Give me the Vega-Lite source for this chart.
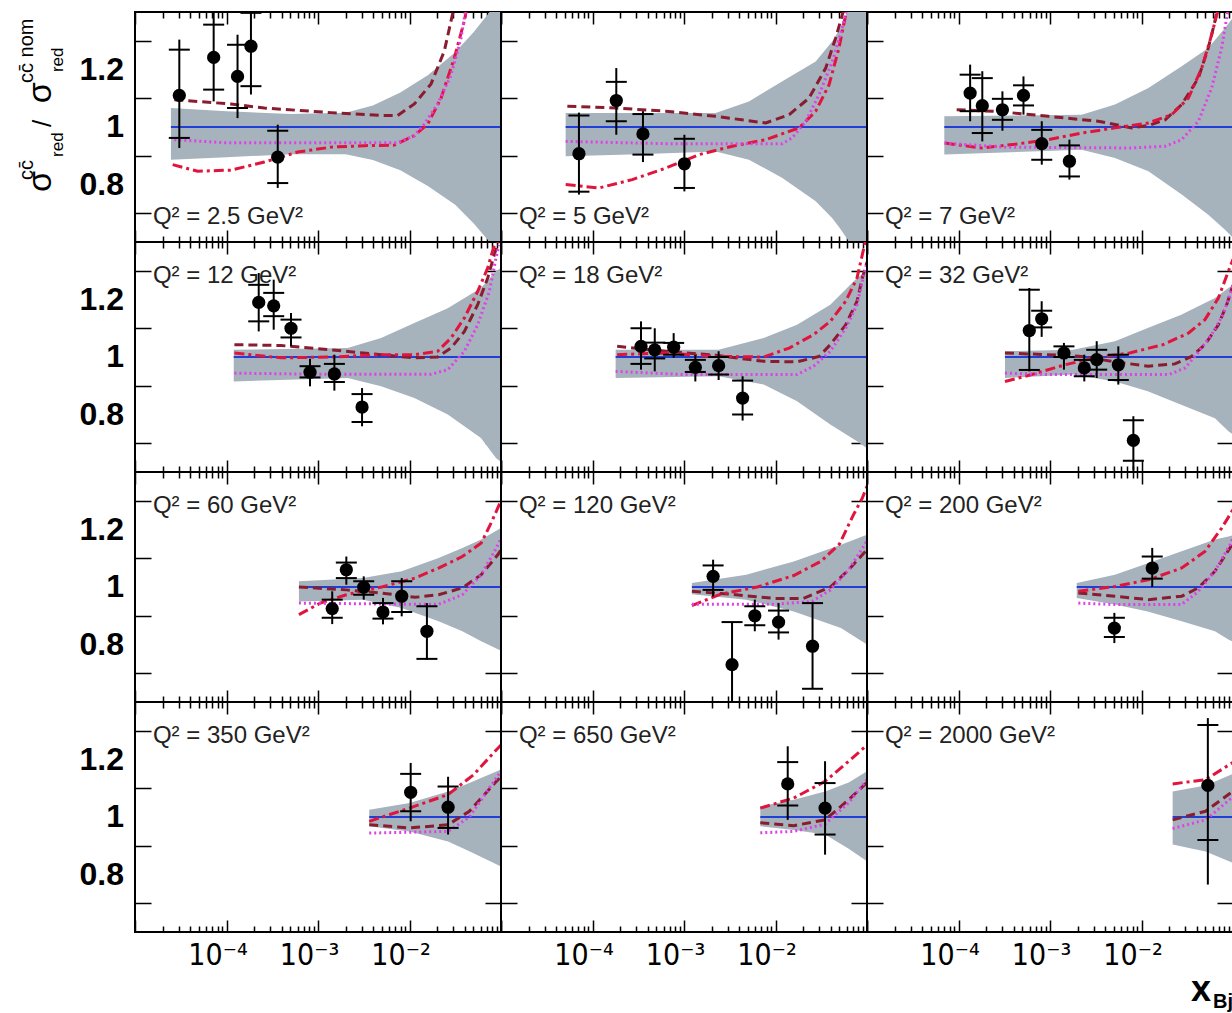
{
"$schema":"https://vega.github.io/schema/vega-lite/v6.json",
"background":"white",
"padding":{"left":15,"top":11,"right":0,"bottom":0},
"data":{"values":[
{"p":2.5,"k":"band","x":2.47e-5,"lo":0.886,"hi":1.066},{"p":2.5,"k":"band","x":1e-4,"lo":0.895,"hi":1.055},{"p":2.5,"k":"band","x":5.01e-4,"lo":0.905,"hi":1.045},{"p":2.5,"k":"band","x":2.0e-3,"lo":0.905,"hi":1.05},{"p":2.5,"k":"band","x":3.98e-3,"lo":0.885,"hi":1.075},{"p":2.5,"k":"band","x":7.94e-3,"lo":0.85,"hi":1.12},{"p":2.5,"k":"band","x":1.585e-2,"lo":0.795,"hi":1.18},{"p":2.5,"k":"band","x":3.16e-2,"lo":0.73,"hi":1.26},{"p":2.5,"k":"band","x":5.01e-2,"lo":0.665,"hi":1.33},{"p":2.5,"k":"band","x":7.08e-2,"lo":0.61,"hi":1.39},{"p":2.5,"k":"band","x":0.1,"lo":0.55,"hi":1.45},
{"p":2.5,"k":"dash","x":2.69e-5,"y":1.095},{"p":2.5,"k":"dash","x":1.12e-4,"y":1.08},{"p":2.5,"k":"dash","x":2.59e-4,"y":1.066},{"p":2.5,"k":"dash","x":1.39e-3,"y":1.05},{"p":2.5,"k":"dash","x":4.89e-3,"y":1.04},{"p":2.5,"k":"dash","x":7.41e-3,"y":1.04},{"p":2.5,"k":"dash","x":1.13e-2,"y":1.08},{"p":2.5,"k":"dash","x":1.72e-2,"y":1.15},{"p":2.5,"k":"dash","x":2.40e-2,"y":1.264},{"p":2.5,"k":"dash","x":2.84e-2,"y":1.368},{"p":2.5,"k":"dash","x":3.24e-2,"y":1.45},
{"p":2.5,"k":"dashdot","x":2.58e-5,"y":0.869},{"p":2.5,"k":"dashdot","x":4.84e-5,"y":0.846},{"p":2.5,"k":"dashdot","x":1.12e-4,"y":0.85},{"p":2.5,"k":"dashdot","x":2.59e-4,"y":0.878},{"p":2.5,"k":"dashdot","x":6.0e-4,"y":0.913},{"p":2.5,"k":"dashdot","x":1.39e-3,"y":0.93},{"p":2.5,"k":"dashdot","x":3.21e-3,"y":0.935},{"p":2.5,"k":"dashdot","x":6.82e-3,"y":0.937},{"p":2.5,"k":"dashdot","x":1.13e-2,"y":0.97},{"p":2.5,"k":"dashdot","x":1.58e-2,"y":1.01},{"p":2.5,"k":"dashdot","x":2.21e-2,"y":1.10},{"p":2.5,"k":"dashdot","x":3.09e-2,"y":1.24},{"p":2.5,"k":"dashdot","x":3.98e-2,"y":1.37},{"p":2.5,"k":"dashdot","x":4.33e-2,"y":1.43},
{"p":2.5,"k":"dot","x":2.69e-5,"y":0.956},{"p":2.5,"k":"dot","x":1e-4,"y":0.945},{"p":2.5,"k":"dot","x":1e-3,"y":0.945},{"p":2.5,"k":"dot","x":7.41e-3,"y":0.945},{"p":2.5,"k":"dot","x":1.13e-2,"y":0.97},{"p":2.5,"k":"dot","x":1.45e-2,"y":1.01},{"p":2.5,"k":"dot","x":2.03e-2,"y":1.08},{"p":2.5,"k":"dot","x":2.84e-2,"y":1.18},{"p":2.5,"k":"dot","x":3.66e-2,"y":1.31},{"p":2.5,"k":"dot","x":4.17e-2,"y":1.42},
{"p":2.5,"k":"pt","x":3.05e-5,"y":1.11,"sl":0.962,"sh":1.269,"tl":0.927,"th":1.304},{"p":2.5,"k":"pt","x":7.24e-5,"y":1.242,"sl":1.13,"sh":1.356,"tl":1.089,"th":1.45},{"p":2.5,"k":"pt","x":1.32e-4,"y":1.176,"sl":1.066,"sh":1.286,"tl":1.031,"th":1.321},{"p":2.5,"k":"pt","x":1.85e-4,"y":1.281,"sl":1.142,"sh":1.397,"tl":1.113,"th":1.45},{"p":2.5,"k":"pt","x":3.63e-4,"y":0.895,"sl":0.805,"sh":0.987,"tl":0.788,"th":1.008},
{"p":2.5,"k":"lab","t":"Q² = 2.5 GeV²"},

{"p":5,"k":"band","x":5.09e-5,"lo":0.898,"hi":1.049},{"p":5,"k":"band","x":3.16e-4,"lo":0.905,"hi":1.049},{"p":5,"k":"band","x":2.22e-3,"lo":0.915,"hi":1.049},{"p":5,"k":"band","x":5.13e-3,"lo":0.886,"hi":1.089},{"p":5,"k":"band","x":1.19e-2,"lo":0.823,"hi":1.159},{"p":5,"k":"band","x":2.75e-2,"lo":0.742,"hi":1.228},{"p":5,"k":"band","x":4.18e-2,"lo":0.683,"hi":1.298},{"p":5,"k":"band","x":5.01e-2,"lo":0.65,"hi":1.34},{"p":5,"k":"band","x":7.08e-2,"lo":0.58,"hi":1.45},{"p":5,"k":"band","x":0.1,"lo":0.5,"hi":1.6},
{"p":5,"k":"dash","x":5.31e-5,"y":1.072},{"p":5,"k":"dash","x":1.79e-4,"y":1.066},{"p":5,"k":"dash","x":6.31e-4,"y":1.055},{"p":5,"k":"dash","x":2.22e-3,"y":1.037},{"p":5,"k":"dash","x":7.82e-3,"y":1.014},{"p":5,"k":"dash","x":1.41e-2,"y":1.043},{"p":5,"k":"dash","x":2.32e-2,"y":1.10},{"p":5,"k":"dash","x":3.54e-2,"y":1.205},{"p":5,"k":"dash","x":4.55e-2,"y":1.31},{"p":5,"k":"dash","x":5.37e-2,"y":1.39},{"p":5,"k":"dash","x":6.03e-2,"y":1.45},
{"p":5,"k":"dashdot","x":5.09e-5,"y":0.80},{"p":5,"k":"dashdot","x":1.18e-4,"y":0.788},{"p":5,"k":"dashdot","x":2.72e-4,"y":0.817},{"p":5,"k":"dashdot","x":6.31e-4,"y":0.857},{"p":5,"k":"dashdot","x":1.46e-3,"y":0.904},{"p":5,"k":"dashdot","x":3.37e-3,"y":0.933},{"p":5,"k":"dashdot","x":7.82e-3,"y":0.956},{"p":5,"k":"dashdot","x":1.81e-2,"y":0.997},{"p":5,"k":"dashdot","x":2.75e-2,"y":1.055},{"p":5,"k":"dashdot","x":3.85e-2,"y":1.147},{"p":5,"k":"dashdot","x":4.94e-2,"y":1.275},{"p":5,"k":"dashdot","x":5.85e-2,"y":1.39},{"p":5,"k":"dashdot","x":6.31e-2,"y":1.45},
{"p":5,"k":"dot","x":5.09e-5,"y":0.95},{"p":5,"k":"dot","x":6.31e-4,"y":0.942},{"p":5,"k":"dot","x":1.19e-2,"y":0.942},{"p":5,"k":"dot","x":1.53e-2,"y":0.963},{"p":5,"k":"dot","x":2.14e-2,"y":1.02},{"p":5,"k":"dot","x":2.99e-2,"y":1.112},{"p":5,"k":"dot","x":4.18e-2,"y":1.228},{"p":5,"k":"dot","x":5.37e-2,"y":1.344},{"p":5,"k":"dot","x":6.1e-2,"y":1.42},
{"p":5,"k":"pt","x":7.11e-5,"y":0.907,"sl":0.775,"sh":1.04,"tl":0.765,"th":1.05},{"p":5,"k":"pt","x":1.82e-4,"y":1.092,"sl":1.02,"sh":1.157,"tl":0.973,"th":1.205},{"p":5,"k":"pt","x":3.56e-4,"y":0.976,"sl":0.904,"sh":1.045,"tl":0.878,"th":1.055},{"p":5,"k":"pt","x":1.01e-3,"y":0.872,"sl":0.788,"sh":0.959,"tl":0.776,"th":0.973},
{"p":5,"k":"lab","t":"Q² = 5 GeV²"},

{"p":7,"k":"band","x":7.0e-5,"lo":0.904,"hi":1.037},{"p":7,"k":"band","x":2.22e-3,"lo":0.921,"hi":1.043},{"p":7,"k":"band","x":5.13e-3,"lo":0.892,"hi":1.078},{"p":7,"k":"band","x":1.19e-2,"lo":0.846,"hi":1.136},{"p":7,"k":"band","x":2.75e-2,"lo":0.765,"hi":1.211},{"p":7,"k":"band","x":5.37e-2,"lo":0.695,"hi":1.275},{"p":7,"k":"band","x":8.18e-2,"lo":0.643,"hi":1.344},{"p":7,"k":"band","x":0.1,"lo":0.615,"hi":1.38},
{"p":7,"k":"dash","x":9.55e-5,"y":1.06},{"p":7,"k":"dash","x":2.72e-4,"y":1.054},{"p":7,"k":"dash","x":9.59e-4,"y":1.037},{"p":7,"k":"dash","x":3.37e-3,"y":1.02},{"p":7,"k":"dash","x":7.82e-3,"y":0.997},{"p":7,"k":"dash","x":1.19e-2,"y":1.005},{"p":7,"k":"dash","x":1.81e-2,"y":1.025},{"p":7,"k":"dash","x":2.75e-2,"y":1.078},{"p":7,"k":"dash","x":4.18e-2,"y":1.17},{"p":7,"k":"dash","x":5.37e-2,"y":1.275},{"p":7,"k":"dash","x":6.35e-2,"y":1.368},{"p":7,"k":"dash","x":6.92e-2,"y":1.43},
{"p":7,"k":"dashdot","x":7.11e-5,"y":0.944},{"p":7,"k":"dashdot","x":1.79e-4,"y":0.927},{"p":7,"k":"dashdot","x":4.14e-4,"y":0.94},{"p":7,"k":"dashdot","x":9.59e-4,"y":0.956},{"p":7,"k":"dashdot","x":2.22e-3,"y":0.979},{"p":7,"k":"dashdot","x":5.13e-3,"y":0.997},{"p":7,"k":"dashdot","x":1.19e-2,"y":1.014},{"p":7,"k":"dashdot","x":2.14e-2,"y":1.043},{"p":7,"k":"dashdot","x":3.25e-2,"y":1.10},{"p":7,"k":"dashdot","x":4.55e-2,"y":1.205},{"p":7,"k":"dashdot","x":5.85e-2,"y":1.321},{"p":7,"k":"dashdot","x":6.64e-2,"y":1.39},{"p":7,"k":"dashdot","x":7.08e-2,"y":1.43},
{"p":7,"k":"dot","x":7.0e-5,"y":0.944},{"p":7,"k":"dot","x":3.16e-4,"y":0.93},{"p":7,"k":"dot","x":7.82e-3,"y":0.927},{"p":7,"k":"dot","x":1.81e-2,"y":0.933},{"p":7,"k":"dot","x":2.75e-2,"y":0.956},{"p":7,"k":"dot","x":4.18e-2,"y":1.02},{"p":7,"k":"dot","x":5.85e-2,"y":1.136},{"p":7,"k":"dot","x":7.52e-2,"y":1.275},{"p":7,"k":"dot","x":8.53e-2,"y":1.38},{"p":7,"k":"dot","x":9.12e-2,"y":1.43},
{"p":7,"k":"pt","x":1.34e-4,"y":1.118,"sl":1.055,"sh":1.182,"tl":1.02,"th":1.217},{"p":7,"k":"pt","x":1.82e-4,"y":1.074,"sl":0.979,"sh":1.17,"tl":0.95,"th":1.194},{"p":7,"k":"pt","x":3.02e-4,"y":1.06,"sl":1.025,"sh":1.098,"tl":0.987,"th":1.124},{"p":7,"k":"pt","x":5.13e-4,"y":1.11,"sl":1.075,"sh":1.145,"tl":1.043,"th":1.176},{"p":7,"k":"pt","x":8.13e-4,"y":0.942,"sl":0.886,"sh":0.99,"tl":0.869,"th":1.02},{"p":7,"k":"pt","x":1.63e-3,"y":0.881,"sl":0.828,"sh":0.936,"tl":0.817,"th":0.956},
{"p":7,"k":"lab","t":"Q² = 7 GeV²"},

{"p":12,"k":"band","x":1.2e-4,"lo":0.915,"hi":1.025},{"p":12,"k":"band","x":2.11e-3,"lo":0.927,"hi":1.031},{"p":12,"k":"band","x":4.89e-3,"lo":0.898,"hi":1.066},{"p":12,"k":"band","x":1.13e-2,"lo":0.857,"hi":1.118},{"p":12,"k":"band","x":2.62e-2,"lo":0.80,"hi":1.17},{"p":12,"k":"band","x":6.04e-2,"lo":0.718,"hi":1.24},{"p":12,"k":"band","x":8.81e-2,"lo":0.649,"hi":1.298},{"p":12,"k":"band","x":0.1,"lo":0.635,"hi":1.31},
{"p":12,"k":"dash","x":1.22e-4,"y":1.043},{"p":12,"k":"dash","x":3.94e-4,"y":1.04},{"p":12,"k":"dash","x":1.39e-3,"y":1.025},{"p":12,"k":"dash","x":4.89e-3,"y":1.008},{"p":12,"k":"dash","x":1.13e-2,"y":0.997},{"p":12,"k":"dash","x":2.03e-2,"y":1.0},{"p":12,"k":"dash","x":2.84e-2,"y":1.031},{"p":12,"k":"dash","x":3.98e-2,"y":1.089},{"p":12,"k":"dash","x":5.56e-2,"y":1.182},{"p":12,"k":"dash","x":7.16e-2,"y":1.275},{"p":12,"k":"dash","x":8.45e-2,"y":1.356},{"p":12,"k":"dash","x":9.33e-2,"y":1.40},
{"p":12,"k":"dashdot","x":1.22e-4,"y":1.014},{"p":12,"k":"dashdot","x":3.94e-4,"y":0.997},{"p":12,"k":"dashdot","x":1.39e-3,"y":1.0},{"p":12,"k":"dashdot","x":4.89e-3,"y":1.008},{"p":12,"k":"dashdot","x":1.13e-2,"y":1.008},{"p":12,"k":"dashdot","x":2.03e-2,"y":1.02},{"p":12,"k":"dashdot","x":2.84e-2,"y":1.066},{"p":12,"k":"dashdot","x":3.98e-2,"y":1.136},{"p":12,"k":"dashdot","x":5.56e-2,"y":1.228},{"p":12,"k":"dashdot","x":7.16e-2,"y":1.31},{"p":12,"k":"dashdot","x":8.11e-2,"y":1.37},{"p":12,"k":"dashdot","x":8.91e-2,"y":1.41},
{"p":12,"k":"dot","x":1.22e-4,"y":0.944},{"p":12,"k":"dot","x":1e-3,"y":0.94},{"p":12,"k":"dot","x":1.72e-2,"y":0.94},{"p":12,"k":"dot","x":2.62e-2,"y":0.956},{"p":12,"k":"dot","x":3.98e-2,"y":1.02},{"p":12,"k":"dot","x":5.56e-2,"y":1.112},{"p":12,"k":"dot","x":7.46e-2,"y":1.228},{"p":12,"k":"dot","x":8.81e-2,"y":1.344},{"p":12,"k":"dot","x":9.55e-2,"y":1.39},
{"p":12,"k":"pt","x":2.25e-4,"y":1.19,"sl":1.124,"sh":1.251,"tl":1.089,"th":1.292},{"p":12,"k":"pt","x":3.28e-4,"y":1.178,"sl":1.142,"sh":1.223,"tl":1.095,"th":1.269},{"p":12,"k":"pt","x":5.07e-4,"y":1.10,"sl":1.068,"sh":1.13,"tl":1.037,"th":1.153},{"p":12,"k":"pt","x":8.18e-4,"y":0.947,"sl":0.929,"sh":0.968,"tl":0.898,"th":0.994},{"p":12,"k":"pt","x":1.51e-3,"y":0.941,"sl":0.913,"sh":0.976,"tl":0.883,"th":1.008},{"p":12,"k":"pt","x":3.03e-3,"y":0.826,"sl":0.774,"sh":0.871,"tl":0.759,"th":0.892},
{"p":12,"k":"lab","t":"Q² = 12 GeV²"},

{"p":18,"k":"band","x":1.79e-4,"lo":0.927,"hi":1.025},{"p":18,"k":"band","x":2.39e-3,"lo":0.933,"hi":1.025},{"p":18,"k":"band","x":7.43e-3,"lo":0.904,"hi":1.066},{"p":18,"k":"band","x":1.72e-2,"lo":0.846,"hi":1.112},{"p":18,"k":"band","x":3.97e-2,"lo":0.765,"hi":1.182},{"p":18,"k":"band","x":7.78e-2,"lo":0.707,"hi":1.275},{"p":18,"k":"band","x":0.1,"lo":0.683,"hi":1.30},
{"p":18,"k":"dash","x":1.86e-4,"y":1.037},{"p":18,"k":"dash","x":6.31e-4,"y":1.02},{"p":18,"k":"dash","x":2.22e-3,"y":1.006},{"p":18,"k":"dash","x":7.43e-3,"y":0.985},{"p":18,"k":"dash","x":1.72e-2,"y":0.983},{"p":18,"k":"dash","x":2.99e-2,"y":1.002},{"p":18,"k":"dash","x":3.97e-2,"y":1.043},{"p":18,"k":"dash","x":5.85e-2,"y":1.112},{"p":18,"k":"dash","x":7.78e-2,"y":1.194},{"p":18,"k":"dash","x":8.89e-2,"y":1.275},{"p":18,"k":"dash","x":0.1,"y":1.33},
{"p":18,"k":"dashdot","x":1.86e-4,"y":1.008},{"p":18,"k":"dashdot","x":6.31e-4,"y":1.014},{"p":18,"k":"dashdot","x":2.22e-3,"y":1.002},{"p":18,"k":"dashdot","x":7.43e-3,"y":1.0},{"p":18,"k":"dashdot","x":1.41e-2,"y":1.031},{"p":18,"k":"dashdot","x":2.61e-2,"y":1.078},{"p":18,"k":"dashdot","x":3.97e-2,"y":1.124},{"p":18,"k":"dashdot","x":5.85e-2,"y":1.194},{"p":18,"k":"dashdot","x":7.78e-2,"y":1.275},{"p":18,"k":"dashdot","x":8.89e-2,"y":1.356},{"p":18,"k":"dashdot","x":9.55e-2,"y":1.40},
{"p":18,"k":"dot","x":1.79e-4,"y":0.95},{"p":18,"k":"dot","x":1e-3,"y":0.939},{"p":18,"k":"dot","x":1.72e-2,"y":0.939},{"p":18,"k":"dot","x":2.61e-2,"y":0.968},{"p":18,"k":"dot","x":3.97e-2,"y":1.02},{"p":18,"k":"dot","x":5.85e-2,"y":1.10},{"p":18,"k":"dot","x":7.78e-2,"y":1.182},{"p":18,"k":"dot","x":8.89e-2,"y":1.263},{"p":18,"k":"dot","x":0.1,"y":1.33},
{"p":18,"k":"pt","x":3.39e-4,"y":1.037,"sl":0.976,"sh":1.10,"tl":0.956,"th":1.124},{"p":18,"k":"pt","x":4.79e-4,"y":1.025,"sl":0.995,"sh":1.05,"tl":0.95,"th":1.10},{"p":18,"k":"pt","x":7.71e-4,"y":1.034,"sl":1.008,"sh":1.049,"tl":0.997,"th":1.083},{"p":18,"k":"pt","x":1.33e-3,"y":0.964,"sl":0.948,"sh":0.99,"tl":0.915,"th":1.008},{"p":18,"k":"pt","x":2.39e-3,"y":0.97,"sl":0.939,"sh":1.0,"tl":0.92,"th":1.02},{"p":18,"k":"pt","x":4.37e-3,"y":0.857,"sl":0.80,"sh":0.918,"tl":0.779,"th":0.933},
{"p":18,"k":"lab","t":"Q² = 18 GeV²"},

{"p":32,"k":"band","x":3.22e-4,"lo":0.927,"hi":1.02},{"p":32,"k":"band","x":1.78e-3,"lo":0.939,"hi":1.025},{"p":32,"k":"band","x":5.13e-3,"lo":0.915,"hi":1.055},{"p":32,"k":"band","x":1.17e-2,"lo":0.881,"hi":1.101},{"p":32,"k":"band","x":2.72e-2,"lo":0.834,"hi":1.147},{"p":32,"k":"band","x":6.35e-2,"lo":0.787,"hi":1.205},{"p":32,"k":"band","x":8.91e-2,"lo":0.742,"hi":1.24},{"p":32,"k":"band","x":0.1,"lo":0.73,"hi":1.25},
{"p":32,"k":"dash","x":3.22e-4,"y":1.014},{"p":32,"k":"dash","x":9.59e-4,"y":1.008},{"p":32,"k":"dash","x":2.22e-3,"y":1.002},{"p":32,"k":"dash","x":5.13e-3,"y":0.983},{"p":32,"k":"dash","x":1.19e-2,"y":0.968},{"p":32,"k":"dash","x":2.32e-2,"y":0.976},{"p":32,"k":"dash","x":3.53e-2,"y":1.002},{"p":32,"k":"dash","x":4.94e-2,"y":1.043},{"p":32,"k":"dash","x":6.92e-2,"y":1.112},{"p":32,"k":"dash","x":8.53e-2,"y":1.182},{"p":32,"k":"dash","x":0.1,"y":1.25},
{"p":32,"k":"dashdot","x":3.22e-4,"y":0.915},{"p":32,"k":"dashdot","x":6.31e-4,"y":0.939},{"p":32,"k":"dashdot","x":1.46e-3,"y":0.973},{"p":32,"k":"dashdot","x":3.37e-3,"y":1.0},{"p":32,"k":"dashdot","x":7.43e-3,"y":1.014},{"p":32,"k":"dashdot","x":1.72e-2,"y":1.043},{"p":32,"k":"dashdot","x":3.25e-2,"y":1.083},{"p":32,"k":"dashdot","x":4.94e-2,"y":1.13},{"p":32,"k":"dashdot","x":6.92e-2,"y":1.205},{"p":32,"k":"dashdot","x":8.89e-2,"y":1.298},{"p":32,"k":"dashdot","x":0.1,"y":1.34},
{"p":32,"k":"dot","x":3.22e-4,"y":0.944},{"p":32,"k":"dot","x":1e-3,"y":0.939},{"p":32,"k":"dot","x":2.0e-2,"y":0.939},{"p":32,"k":"dot","x":2.99e-2,"y":0.962},{"p":32,"k":"dot","x":3.97e-2,"y":1.008},{"p":32,"k":"dot","x":5.85e-2,"y":1.078},{"p":32,"k":"dot","x":7.78e-2,"y":1.147},{"p":32,"k":"dot","x":9.27e-2,"y":1.217},{"p":32,"k":"dot","x":0.1,"y":1.25},
{"p":32,"k":"pt","x":5.94e-4,"y":1.092,"sl":0.955,"sh":1.234,"tl":0.95,"th":1.24},{"p":32,"k":"pt","x":8.11e-4,"y":1.133,"sl":1.103,"sh":1.161,"tl":1.07,"th":1.194},{"p":32,"k":"pt","x":1.42e-3,"y":1.014,"sl":1.0,"sh":1.037,"tl":0.956,"th":1.049},{"p":32,"k":"pt","x":2.37e-3,"y":0.962,"sl":0.933,"sh":0.99,"tl":0.915,"th":1.008},{"p":32,"k":"pt","x":3.24e-3,"y":0.991,"sl":0.956,"sh":1.025,"tl":0.927,"th":1.055},{"p":32,"k":"pt","x":5.58e-3,"y":0.973,"sl":0.92,"sh":1.008,"tl":0.904,"th":1.037},{"p":32,"k":"pt","x":8.15e-3,"y":0.71,"sl":0.639,"sh":0.78,"tl":0.605,"th":0.794},
{"p":32,"k":"lab","t":"Q² = 32 GeV²"},

{"p":60,"k":"band","x":6.19e-4,"lo":0.95,"hi":1.02},{"p":60,"k":"band","x":3.1e-3,"lo":0.956,"hi":1.031},{"p":60,"k":"band","x":8.22e-3,"lo":0.927,"hi":1.055},{"p":60,"k":"band","x":2.08e-2,"lo":0.881,"hi":1.101},{"p":60,"k":"band","x":3.78e-2,"lo":0.846,"hi":1.136},{"p":60,"k":"band","x":6.08e-2,"lo":0.811,"hi":1.165},{"p":60,"k":"band","x":0.1,"lo":0.778,"hi":1.205},
{"p":60,"k":"dash","x":6.19e-4,"y":1.0},{"p":60,"k":"dash","x":2.04e-3,"y":0.99},{"p":60,"k":"dash","x":4.98e-3,"y":0.979},{"p":60,"k":"dash","x":1.15e-2,"y":0.964},{"p":60,"k":"dash","x":2.08e-2,"y":0.973},{"p":60,"k":"dash","x":3.78e-2,"y":0.997},{"p":60,"k":"dash","x":6.08e-2,"y":1.043},{"p":60,"k":"dash","x":9.23e-2,"y":1.112},{"p":60,"k":"dash","x":0.1,"y":1.13},
{"p":60,"k":"dashdot","x":6.19e-4,"y":0.904},{"p":60,"k":"dashdot","x":1.06e-3,"y":0.944},{"p":60,"k":"dashdot","x":2.04e-3,"y":0.973},{"p":60,"k":"dashdot","x":4.98e-3,"y":1.0},{"p":60,"k":"dashdot","x":1.15e-2,"y":1.031},{"p":60,"k":"dashdot","x":2.08e-2,"y":1.066},{"p":60,"k":"dashdot","x":3.78e-2,"y":1.106},{"p":60,"k":"dashdot","x":6.08e-2,"y":1.153},{"p":60,"k":"dashdot","x":7.94e-2,"y":1.228},{"p":60,"k":"dashdot","x":9.23e-2,"y":1.275},{"p":60,"k":"dashdot","x":0.1,"y":1.30},
{"p":60,"k":"dot","x":6.19e-4,"y":0.944},{"p":60,"k":"dot","x":1e-2,"y":0.94},{"p":60,"k":"dot","x":2.08e-2,"y":0.94},{"p":60,"k":"dot","x":3.78e-2,"y":0.973},{"p":60,"k":"dot","x":6.08e-2,"y":1.043},{"p":60,"k":"dot","x":8.91e-2,"y":1.136},{"p":60,"k":"dot","x":0.1,"y":1.17},
{"p":60,"k":"pt","x":1.43e-3,"y":0.925,"sl":0.893,"sh":0.956,"tl":0.871,"th":0.985},{"p":60,"k":"pt","x":2.04e-3,"y":1.06,"sl":1.031,"sh":1.085,"tl":1.008,"th":1.106},{"p":60,"k":"pt","x":3.16e-3,"y":0.999,"sl":0.973,"sh":1.02,"tl":0.956,"th":1.037},{"p":60,"k":"pt","x":5.13e-3,"y":0.913,"sl":0.89,"sh":0.944,"tl":0.87,"th":0.962},{"p":60,"k":"pt","x":8.22e-3,"y":0.968,"sl":0.913,"sh":1.02,"tl":0.898,"th":1.031},{"p":60,"k":"pt","x":1.55e-2,"y":0.846,"sl":0.75,"sh":0.933,"tl":0.747,"th":0.944},
{"p":60,"k":"lab","t":"Q² = 60 GeV²"},

{"p":120,"k":"band","x":1.22e-3,"lo":0.975,"hi":1.014},{"p":120,"k":"band","x":4.79e-3,"lo":0.956,"hi":1.043},{"p":120,"k":"band","x":1.585e-2,"lo":0.915,"hi":1.089},{"p":120,"k":"band","x":5.19e-2,"lo":0.857,"hi":1.147},{"p":120,"k":"band","x":0.1,"lo":0.80,"hi":1.182},
{"p":120,"k":"dash","x":1.22e-3,"y":0.985},{"p":120,"k":"dash","x":3.16e-3,"y":0.975},{"p":120,"k":"dash","x":1e-2,"y":0.96},{"p":120,"k":"dash","x":2.0e-2,"y":0.96},{"p":120,"k":"dash","x":3.98e-2,"y":1.0},{"p":120,"k":"dash","x":6.31e-2,"y":1.06},{"p":120,"k":"dash","x":0.1,"y":1.13},
{"p":120,"k":"dashdot","x":1.22e-3,"y":0.935},{"p":120,"k":"dashdot","x":2.51e-3,"y":0.975},{"p":120,"k":"dashdot","x":6.31e-3,"y":1.0},{"p":120,"k":"dashdot","x":1.585e-2,"y":1.04},{"p":120,"k":"dashdot","x":3.16e-2,"y":1.09},{"p":120,"k":"dashdot","x":5.01e-2,"y":1.15},{"p":120,"k":"dashdot","x":7.08e-2,"y":1.25},{"p":120,"k":"dashdot","x":8.91e-2,"y":1.31},{"p":120,"k":"dashdot","x":0.1,"y":1.35},
{"p":120,"k":"dot","x":1.22e-3,"y":0.94},{"p":120,"k":"dot","x":1e-2,"y":0.94},{"p":120,"k":"dot","x":2.51e-2,"y":0.95},{"p":120,"k":"dot","x":3.98e-2,"y":0.99},{"p":120,"k":"dot","x":6.31e-2,"y":1.06},{"p":120,"k":"dot","x":0.1,"y":1.16},
{"p":120,"k":"pt","x":2.08e-3,"y":1.037,"sl":0.99,"sh":1.075,"tl":0.967,"th":1.095},{"p":120,"k":"pt","x":3.35e-3,"y":0.73,"sl":0.56,"sh":0.878,"tl":0.55,"th":0.878},{"p":120,"k":"pt","x":5.94e-3,"y":0.90,"sl":0.867,"sh":0.933,"tl":0.846,"th":0.956},{"p":120,"k":"pt","x":1.08e-2,"y":0.878,"sl":0.842,"sh":0.918,"tl":0.817,"th":0.944},{"p":120,"k":"pt","x":2.54e-2,"y":0.794,"sl":0.646,"sh":0.944,"tl":0.646,"th":0.944},
{"p":120,"k":"lab","t":"Q² = 120 GeV²"},

{"p":200,"k":"band","x":1.96e-3,"lo":0.962,"hi":1.014},{"p":200,"k":"band","x":5.13e-3,"lo":0.939,"hi":1.043},{"p":200,"k":"band","x":1.17e-2,"lo":0.915,"hi":1.083},{"p":200,"k":"band","x":2.75e-2,"lo":0.881,"hi":1.124},{"p":200,"k":"band","x":6.35e-2,"lo":0.846,"hi":1.165},{"p":200,"k":"band","x":8.91e-2,"lo":0.817,"hi":1.176},{"p":200,"k":"band","x":0.1,"lo":0.81,"hi":1.18},
{"p":200,"k":"dash","x":2.04e-3,"y":0.979},{"p":200,"k":"dash","x":5.13e-3,"y":0.968},{"p":200,"k":"dash","x":1.19e-2,"y":0.956},{"p":200,"k":"dash","x":2.75e-2,"y":0.968},{"p":200,"k":"dash","x":4.18e-2,"y":0.997},{"p":200,"k":"dash","x":6.35e-2,"y":1.055},{"p":200,"k":"dash","x":9.27e-2,"y":1.136},{"p":200,"k":"dash","x":0.1,"y":1.15},
{"p":200,"k":"dashdot","x":2.04e-3,"y":0.985},{"p":200,"k":"dashdot","x":5.13e-3,"y":1.002},{"p":200,"k":"dashdot","x":1.19e-2,"y":1.025},{"p":200,"k":"dashdot","x":2.75e-2,"y":1.066},{"p":200,"k":"dashdot","x":4.94e-2,"y":1.124},{"p":200,"k":"dashdot","x":7.52e-2,"y":1.205},{"p":200,"k":"dashdot","x":9.27e-2,"y":1.252},{"p":200,"k":"dashdot","x":0.1,"y":1.27},
{"p":200,"k":"dot","x":2.04e-3,"y":0.944},{"p":200,"k":"dot","x":5.01e-3,"y":0.939},{"p":200,"k":"dot","x":2.75e-2,"y":0.939},{"p":200,"k":"dot","x":4.18e-2,"y":0.985},{"p":200,"k":"dot","x":6.35e-2,"y":1.055},{"p":200,"k":"dot","x":9.27e-2,"y":1.147},{"p":200,"k":"dot","x":0.1,"y":1.17},
{"p":200,"k":"pt","x":5.05e-3,"y":0.857,"sl":0.826,"sh":0.893,"tl":0.805,"th":0.91},{"p":200,"k":"pt","x":1.31e-2,"y":1.066,"sl":1.029,"sh":1.106,"tl":1.0,"th":1.136},
{"p":200,"k":"lab","t":"Q² = 200 GeV²"},

{"p":350,"k":"band","x":3.63e-3,"lo":0.968,"hi":1.025},{"p":350,"k":"band","x":1e-2,"lo":0.95,"hi":1.049},{"p":350,"k":"band","x":2.64e-2,"lo":0.915,"hi":1.089},{"p":350,"k":"band","x":4.51e-2,"lo":0.881,"hi":1.118},{"p":350,"k":"band","x":0.1,"lo":0.828,"hi":1.165},
{"p":350,"k":"dash","x":3.63e-3,"y":0.973},{"p":350,"k":"dash","x":1e-2,"y":0.962},{"p":350,"k":"dash","x":2.64e-2,"y":0.973},{"p":350,"k":"dash","x":4.51e-2,"y":1.02},{"p":350,"k":"dash","x":8.91e-2,"y":1.124},{"p":350,"k":"dash","x":0.1,"y":1.14},
{"p":350,"k":"dashdot","x":3.63e-3,"y":0.985},{"p":350,"k":"dashdot","x":1e-2,"y":1.031},{"p":350,"k":"dashdot","x":2.64e-2,"y":1.078},{"p":350,"k":"dashdot","x":5.01e-2,"y":1.147},{"p":350,"k":"dashdot","x":8.91e-2,"y":1.234},{"p":350,"k":"dashdot","x":0.1,"y":1.25},
{"p":350,"k":"dot","x":3.63e-3,"y":0.944},{"p":350,"k":"dot","x":2.64e-2,"y":0.95},{"p":350,"k":"dot","x":4.51e-2,"y":1.0},{"p":350,"k":"dot","x":8.91e-2,"y":1.136},{"p":350,"k":"dot","x":0.1,"y":1.16},
{"p":350,"k":"pt","x":1.03e-2,"y":1.086,"sl":1.02,"sh":1.15,"tl":0.985,"th":1.188},{"p":350,"k":"pt","x":2.64e-2,"y":1.034,"sl":0.962,"sh":1.106,"tl":0.939,"th":1.14},
{"p":350,"k":"lab","t":"Q² = 350 GeV²"},

{"p":650,"k":"band","x":6.82e-3,"lo":0.968,"hi":1.037},{"p":650,"k":"band","x":1.585e-2,"lo":0.955,"hi":1.06},{"p":650,"k":"band","x":3.48e-2,"lo":0.939,"hi":1.089},{"p":650,"k":"band","x":6.31e-2,"lo":0.89,"hi":1.12},{"p":650,"k":"band","x":0.1,"lo":0.846,"hi":1.159},
{"p":650,"k":"dash","x":6.82e-3,"y":0.98},{"p":650,"k":"dash","x":1.585e-2,"y":0.97},{"p":650,"k":"dash","x":3.48e-2,"y":0.99},{"p":650,"k":"dash","x":6.31e-2,"y":1.06},{"p":650,"k":"dash","x":0.1,"y":1.12},
{"p":650,"k":"dashdot","x":6.82e-3,"y":1.031},{"p":650,"k":"dashdot","x":1.585e-2,"y":1.066},{"p":650,"k":"dashdot","x":3.48e-2,"y":1.124},{"p":650,"k":"dashdot","x":6.31e-2,"y":1.194},{"p":650,"k":"dashdot","x":0.1,"y":1.25},
{"p":650,"k":"dot","x":6.82e-3,"y":0.945},{"p":650,"k":"dot","x":1.585e-2,"y":0.95},{"p":650,"k":"dot","x":3.48e-2,"y":0.975},{"p":650,"k":"dot","x":6.31e-2,"y":1.05},{"p":650,"k":"dot","x":0.1,"y":1.13},
{"p":650,"k":"pt","x":1.36e-2,"y":1.115,"sl":1.04,"sh":1.191,"tl":0.99,"th":1.246},{"p":650,"k":"pt","x":3.48e-2,"y":1.031,"sl":0.939,"sh":1.118,"tl":0.869,"th":1.194},
{"p":650,"k":"lab","t":"Q² = 650 GeV²"},

{"p":2000,"k":"band","x":2.19e-2,"lo":0.904,"hi":1.089},{"p":2000,"k":"band","x":5.01e-2,"lo":0.88,"hi":1.11},{"p":2000,"k":"band","x":0.1,"lo":0.84,"hi":1.15},
{"p":2000,"k":"dash","x":2.19e-2,"y":0.99},{"p":2000,"k":"dash","x":5.01e-2,"y":1.02},{"p":2000,"k":"dash","x":0.1,"y":1.09},
{"p":2000,"k":"dashdot","x":2.19e-2,"y":1.115},{"p":2000,"k":"dashdot","x":5.01e-2,"y":1.13},{"p":2000,"k":"dashdot","x":0.1,"y":1.19},
{"p":2000,"k":"dot","x":2.19e-2,"y":0.96},{"p":2000,"k":"dot","x":5.01e-2,"y":0.99},{"p":2000,"k":"dot","x":0.1,"y":1.07},
{"p":2000,"k":"pt","x":5.31e-2,"y":1.11,"sl":0.92,"sh":1.32,"tl":0.765,"th":1.344},
{"p":2000,"k":"lab","t":"Q² = 2000 GeV²"}
]},
"transform":[
 {"calculate":"indexof([2.5,5,7,12,18,32,60,120,200,350,650,2000], datum.p)","as":"i"},
 {"calculate":"floor(datum.i/3)","as":"row"},
 {"calculate":"datum.i % 3","as":"col"}
],
"facet":{
 "row":{"field":"row","type":"ordinal","header":null},
 "column":{"field":"col","type":"ordinal","header":null}
},
"spacing":0,
"bounds":"flush",
"spec":{
"width":366,"height":230,
"layer":[
{"transform":[{"filter":"datum.k=='band'"}],
 "mark":{"type":"area","color":"#a6b2bc","opacity":1,"clip":true},
 "encoding":{
  "x":{"field":"x","type":"quantitative","title":null,"scale":{"type":"log","domain":[0.00001,0.1],"nice":false},
   "axis":{"title":null,"ticks":false,"domain":false,"grid":true,"gridColor":"#000","gridOpacity":1,"gridWidth":1.5,
    "gridDash":{"condition":{"test":"abs(log(datum.value)/LN10 - round(log(datum.value)/LN10)) < 0.01","value":[12,206,12,0]},"value":[6,218,6,0]},
    "values":[0.00001,0.00002,0.00003,0.00004,0.00005,0.00006,0.00007,0.00008,0.00009,0.0001,0.0002,0.0003,0.0004,0.0005,0.0006,0.0007,0.0008,0.0009,0.001,0.002,0.003,0.004,0.005,0.006,0.007,0.008,0.009,0.01,0.02,0.03,0.04,0.05,0.06,0.07,0.08,0.09,0.1],
    "labelExpr":"abs(log(datum.value)/LN10+4)<0.01 ? '10⁻⁴' : (abs(log(datum.value)/LN10+3)<0.01 ? '10⁻³' : (abs(log(datum.value)/LN10+2)<0.01 ? '10⁻²' : ''))",
    "labelFont":"Liberation Sans Narrow, DejaVu Sans Condensed, Liberation Sans","labelFontSize":30,"labelColor":"#000","labelPadding":8,"labelOffset":-9,"labelOverlap":false,"labelFlush":false,"labelBound":false}},
  "y":{"field":"lo","type":"quantitative","title":null,"scale":{"domain":[0.6,1.4],"nice":false,"zero":false},
   "axis":{"title":null,"ticks":false,"domain":false,"labels":false,"grid":true,"gridColor":"#000","gridOpacity":1,"gridWidth":1.5,"gridDash":[16,334,16,0],
    "values":[0.7,0.8,0.9,1,1.1,1.2,1.3]}},
  "y2":{"field":"hi"}}},
{"transform":[{"filter":"datum.k=='band'"}],
 "mark":{"type":"line","color":"#1f3fd8","strokeWidth":2,"clip":true},
 "encoding":{"x":{"field":"x","type":"quantitative","title":null},"y":{"datum":1}}},
{"transform":[{"filter":"datum.k=='dash' || datum.k=='dashdot' || datum.k=='dot'"}],
 "mark":{"type":"line","strokeWidth":3,"clip":true},
 "encoding":{"x":{"field":"x","type":"quantitative","title":null},"y":{"field":"y","type":"quantitative","title":null},
  "color":{"field":"k","type":"nominal","legend":null,"scale":{"domain":["dash","dashdot","dot"],"range":["#8a1c30","#e0143c","#e040e8"]}},
  "strokeDash":{"field":"k","type":"nominal","legend":null,"scale":{"domain":["dash","dashdot","dot"],"range":[[9,5],[10,4,3,4],[2,3]]}}}},
{"transform":[{"filter":"datum.k=='pt'"}],
 "mark":{"type":"rule","color":"#000","strokeWidth":2,"clip":true},
 "encoding":{"x":{"field":"x","type":"quantitative","title":null},"y":{"field":"tl","type":"quantitative","title":null},"y2":{"field":"th"}}},
{"transform":[{"filter":"datum.k=='pt'"}],
 "mark":{"type":"tick","orient":"horizontal","color":"#000","size":21,"thickness":2,"opacity":1,"clip":true},
 "encoding":{"x":{"field":"x","type":"quantitative","title":null},"y":{"field":"sh","type":"quantitative","title":null}}},
{"transform":[{"filter":"datum.k=='pt'"}],
 "mark":{"type":"tick","orient":"horizontal","color":"#000","size":21,"thickness":2,"opacity":1,"clip":true},
 "encoding":{"x":{"field":"x","type":"quantitative","title":null},"y":{"field":"sl","type":"quantitative","title":null}}},
{"transform":[{"filter":"datum.k=='pt'"}],
 "mark":{"type":"point","shape":"circle","filled":true,"size":175,"color":"#000","opacity":1,"clip":true},
 "encoding":{"x":{"field":"x","type":"quantitative","title":null},"y":{"field":"y","type":"quantitative","title":null}}},
{"transform":[{"filter":"datum.k=='lab' && datum.p<=7"}],
 "mark":{"type":"text","align":"left","baseline":"alphabetic","font":"Liberation Sans","fontSize":24,"color":"#222"},
 "encoding":{"x":{"datum":0.0000157},"y":{"datum":0.663},"text":{"field":"t"}}},
{"transform":[{"filter":"datum.k=='lab' && datum.p>7"}],
 "mark":{"type":"text","align":"left","baseline":"alphabetic","font":"Liberation Sans","fontSize":24,"color":"#222"},
 "encoding":{"x":{"datum":0.0000157},"y":{"datum":1.257},"text":{"field":"t"}}},
{"transform":[{"filter":"datum.k=='lab' && datum.col==0"}],
 "mark":{"type":"text","text":"1.2","align":"right","baseline":"middle","font":"Liberation Sans","fontSize":32,"fontWeight":"bold","color":"#000"},
 "encoding":{"x":{"datum":0.00000758},"y":{"datum":1.2}}},
{"transform":[{"filter":"datum.k=='lab' && datum.col==0"}],
 "mark":{"type":"text","text":"1","align":"right","baseline":"middle","font":"Liberation Sans","fontSize":32,"fontWeight":"bold","color":"#000"},
 "encoding":{"x":{"datum":0.00000758},"y":{"datum":1.0}}},
{"transform":[{"filter":"datum.k=='lab' && datum.col==0"}],
 "mark":{"type":"text","text":"0.8","align":"right","baseline":"middle","font":"Liberation Sans","fontSize":32,"fontWeight":"bold","color":"#000"},
 "encoding":{"x":{"datum":0.00000758},"y":{"datum":0.8}}},
{"transform":[{"filter":"datum.k=='lab' && datum.p==2.5"}],
 "mark":{"type":"text","text":"σ","angle":270,"align":"left","baseline":"alphabetic","font":"Liberation Sans","fontSize":34,"color":"#000"},
 "encoding":{"x":{"datum":0.000001208},"y":{"datum":0.774}}},
{"transform":[{"filter":"datum.k=='lab' && datum.p==2.5"}],
 "mark":{"type":"text","text":"cc̄","angle":270,"align":"left","baseline":"alphabetic","font":"Liberation Sans","fontSize":20,"color":"#000"},
 "encoding":{"x":{"datum":0.000000767},"y":{"datum":0.816}}},
{"transform":[{"filter":"datum.k=='lab' && datum.p==2.5"}],
 "mark":{"type":"text","text":"red","angle":270,"align":"left","baseline":"alphabetic","font":"Liberation Sans","fontSize":17,"color":"#000"},
 "encoding":{"x":{"datum":0.000001633},"y":{"datum":0.896}}},
{"transform":[{"filter":"datum.k=='lab' && datum.p==2.5"}],
 "mark":{"type":"text","text":"/","angle":270,"align":"left","baseline":"alphabetic","font":"Liberation Sans","fontSize":26,"color":"#000"},
 "encoding":{"x":{"datum":0.000001208},"y":{"datum":1.0}}},
{"transform":[{"filter":"datum.k=='lab' && datum.p==2.5"}],
 "mark":{"type":"text","text":"σ","angle":270,"align":"left","baseline":"alphabetic","font":"Liberation Sans","fontSize":34,"color":"#000"},
 "encoding":{"x":{"datum":0.000001208},"y":{"datum":1.083}}},
{"transform":[{"filter":"datum.k=='lab' && datum.p==2.5"}],
 "mark":{"type":"text","text":"cc̄ nom","angle":270,"align":"left","baseline":"alphabetic","font":"Liberation Sans","fontSize":20,"color":"#000"},
 "encoding":{"x":{"datum":0.000000767},"y":{"datum":1.153}}},
{"transform":[{"filter":"datum.k=='lab' && datum.p==2.5"}],
 "mark":{"type":"text","text":"red","angle":270,"align":"left","baseline":"alphabetic","font":"Liberation Sans","fontSize":17,"color":"#000"},
 "encoding":{"x":{"datum":0.000001633},"y":{"datum":1.191}}},
{"transform":[{"filter":"datum.k=='lab' && datum.p==2000"}],
 "mark":{"type":"text","text":"x","align":"left","baseline":"alphabetic","font":"Liberation Sans","fontSize":36,"fontWeight":"bold","color":"#000"},
 "encoding":{"x":{"datum":0.0348},"y":{"datum":0.36}}},
{"transform":[{"filter":"datum.k=='lab' && datum.p==2000"}],
 "mark":{"type":"text","text":"Bj","align":"left","baseline":"alphabetic","font":"Liberation Sans","fontSize":20,"fontWeight":"bold","color":"#000"},
 "encoding":{"x":{"datum":0.0604},"y":{"datum":0.335}}}
]},
"config":{"view":{"stroke":"#000","strokeWidth":2},"font":"Liberation Sans"}
}
